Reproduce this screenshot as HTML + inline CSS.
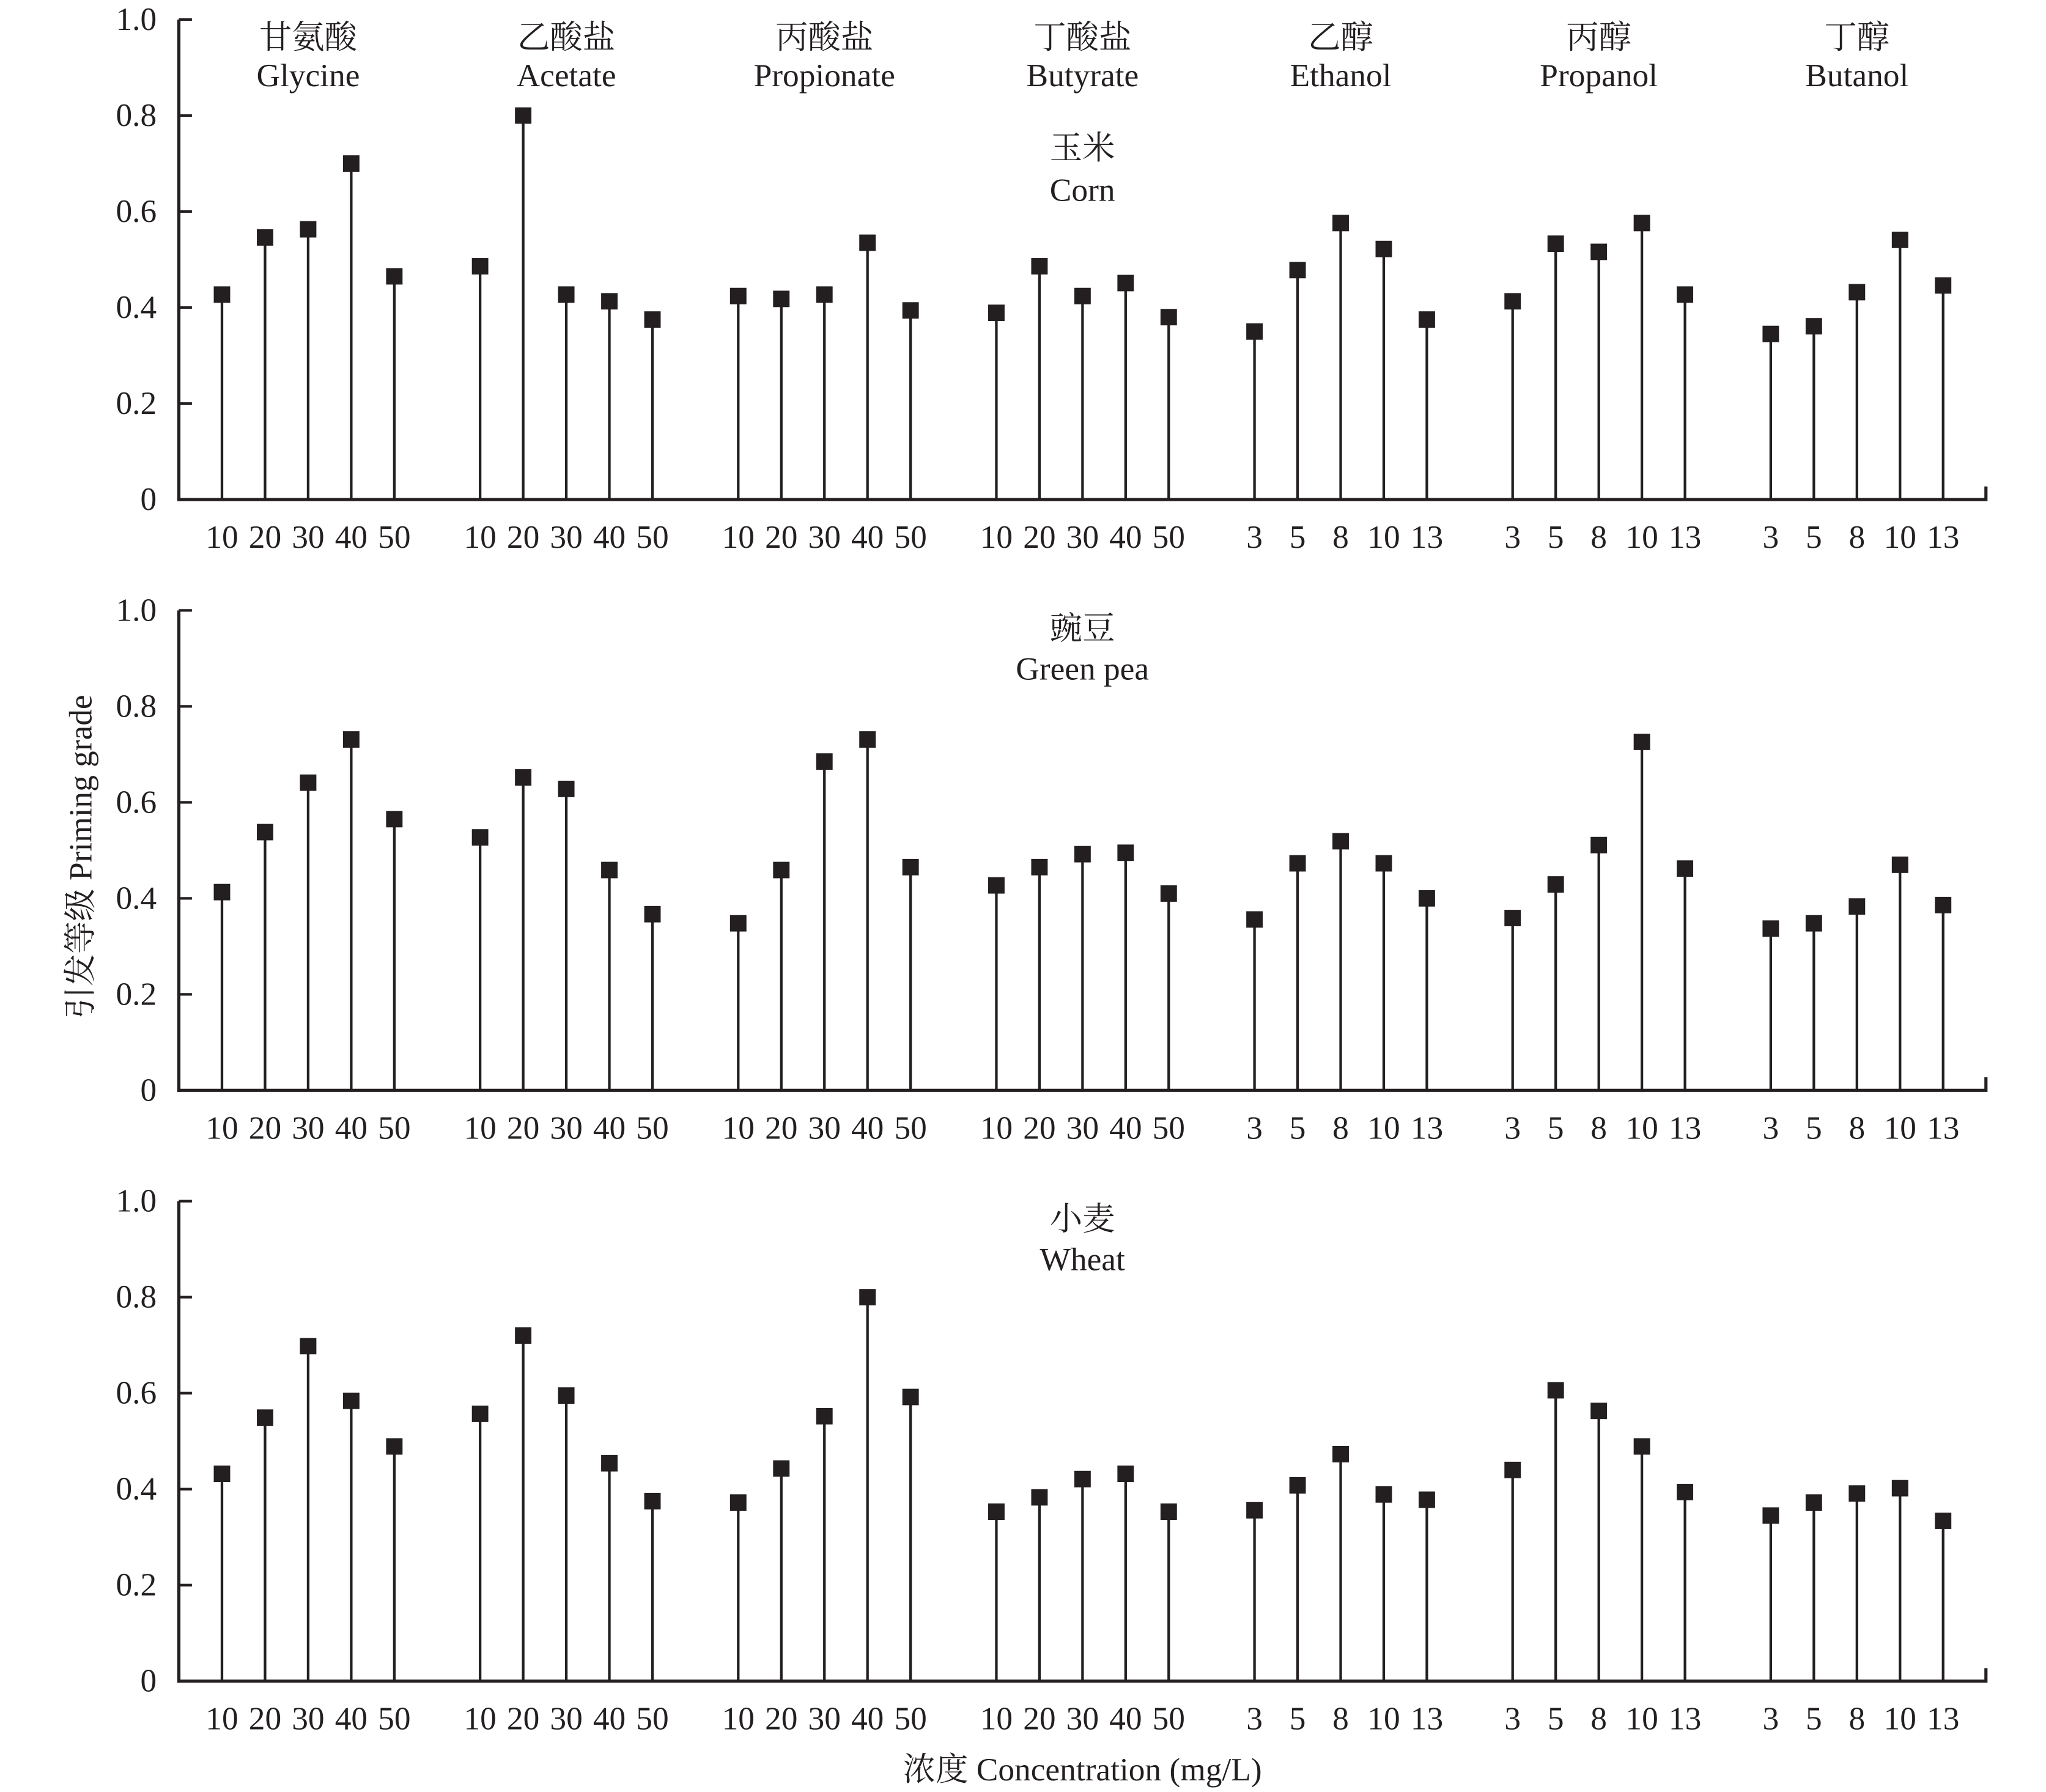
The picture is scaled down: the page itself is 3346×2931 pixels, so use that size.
<!DOCTYPE html>
<html><head><meta charset="utf-8">
<style>
html,body{margin:0;padding:0;background:#fff;}
svg{display:block;}
text{font-family:"Liberation Serif","Noto Serif CJK SC","Noto Sans CJK SC",serif;fill:#231f20;}
</style></head>
<body>
<svg id="chart" width="3346" height="2931" viewBox="0 0 1567 1374" preserveAspectRatio="none" xmlns="http://www.w3.org/2000/svg"></svg>
<script>
const groupsZh = ["甘氨酸","乙酸盐","丙酸盐","丁酸盐","乙醇","丙醇","丁醇"];
const groupsEn = ["Glycine","Acetate","Propionate","Butyrate","Ethanol","Propanol","Butanol"];
const acidConc = ["10","20","30","40","50"];
const alcConc = ["3","5","8","10","13"];
const cropsZh = ["玉米","豌豆","小麦"];
const cropsEn = ["Corn","Green pea","Wheat"];
const yTicks = [0,0.2,0.4,0.6,0.8,1.0];
const yTickLabels = ["0","0.2","0.4","0.6","0.8","1.0"];
const cornValues = [
 [0.427,0.546,0.563,0.70,0.465],[0.486,0.80,0.427,0.413,0.375],[0.424,0.418,0.427,0.535,0.394],
 [0.389,0.486,0.424,0.451,0.38],[0.35,0.478,0.576,0.522,0.375],[0.413,0.533,0.516,0.576,0.427],
 [0.345,0.361,0.432,0.541,0.446]];
const peaValues = [
 [0.413,0.538,0.641,0.731,0.565],[0.527,0.652,0.628,0.459,0.367],[0.348,0.459,0.685,0.731,0.465],
 [0.427,0.465,0.492,0.495,0.41],[0.356,0.473,0.519,0.473,0.40],[0.359,0.429,0.511,0.726,0.462],
 [0.337,0.348,0.383,0.47,0.386]];
const wheatValues = [
 [0.432,0.549,0.698,0.584,0.489],[0.557,0.72,0.595,0.454,0.375],[0.372,0.443,0.552,0.80,0.592],
 [0.353,0.383,0.421,0.432,0.353],[0.356,0.408,0.473,0.389,0.378],[0.44,0.606,0.563,0.489,0.394],
 [0.345,0.372,0.391,0.402,0.334]];
const allValues = [cornValues, peaValues, wheatValues];

const NS = "http://www.w3.org/2000/svg";
const svg = document.getElementById("chart");
function mk(tag, attrs, parent){const e=document.createElementNS(NS,tag);for(const k in attrs)e.setAttribute(k,attrs[k]);(parent||svg).appendChild(e);return e;}
const axisX0 = 137, axisX1 = 1521, plotH = 368;
function xPos(g,i){return 170 + g*197.7 + i*33;}
function yPos(p,v){return 383 + p*453 - v*plotH;}
const FS = 25;

for(let p=0;p<3;p++){
  const gp = mk("g",{});
  
  
  const zeroY = yPos(p,0);
  const ya = mk("line",{x1:axisX0,y1:yPos(p,1),x2:axisX0,y2:zeroY+1.2,stroke:"#231f20","stroke-width":2.4},gp);
  
  
  const xa = mk("path",{d:`M${axisX0-1.2} ${zeroY} H${axisX1} V${zeroY-10}`,stroke:"#231f20","stroke-width":2.4,fill:"none"},gp);
  
  
  yTicks.forEach((t,k)=>{
    const y=yPos(p,t);
    mk("line",{x1:axisX0,y1:y,x2:axisX0+10,y2:y,stroke:"#231f20","stroke-width":2},gp);
    const tl=mk("text",{x:120,y:y+8,"text-anchor":"end","font-size":FS},gp);
    tl.textContent=yTickLabels[k];
    
    
  });
  const cz=mk("text",{x:829,y:p===0?122:p===1?490:943,"text-anchor":"middle","font-size":FS},gp);
  cz.textContent=cropsZh[p];
  
  
  const ce=mk("text",{x:829,y:p===0?154:p===1?521:974,"text-anchor":"middle","font-size":FS},gp);
  ce.textContent=cropsEn[p];
  
  
  for(let g=0;g<7;g++){
    const labels = g<4?acidConc:alcConc;
    for(let i=0;i<5;i++){
      const v=allValues[p][g][i], x=xPos(g,i), y=yPos(p,v);
      const st=mk("line",{x1:x,y1:y,x2:x,y2:zeroY,stroke:"#231f20","stroke-width":2},gp);
      
      
      const m=mk("rect",{x:x-6.3,y:y-6.3,width:12.6,height:12.6,fill:"#231f20"},gp);
      
      
      const xl=mk("text",{x:x,y:zeroY+37,"text-anchor":"middle","font-size":FS},gp);
      xl.textContent=labels[i];
      
      
    }
    if(p===0){
      const gx=xPos(g,2);
      const gz=mk("text",{x:gx,y:37,"text-anchor":"middle","font-size":FS},gp);
      gz.textContent=groupsZh[g];
      
      
      const ge=mk("text",{x:gx,y:66,"text-anchor":"middle","font-size":FS},gp);
      ge.textContent=groupsEn[g];
      
      
    }
  }
}
const yt=mk("text",{x:0,y:0,"text-anchor":"middle","font-size":FS,transform:"translate(70,657) rotate(-90)"});
yt.textContent="引发等级 Priming grade";


const xt=mk("text",{x:829,y:1365,"text-anchor":"middle","font-size":FS});
xt.textContent="浓度 Concentration (mg/L)";


</script>
</body></html>
